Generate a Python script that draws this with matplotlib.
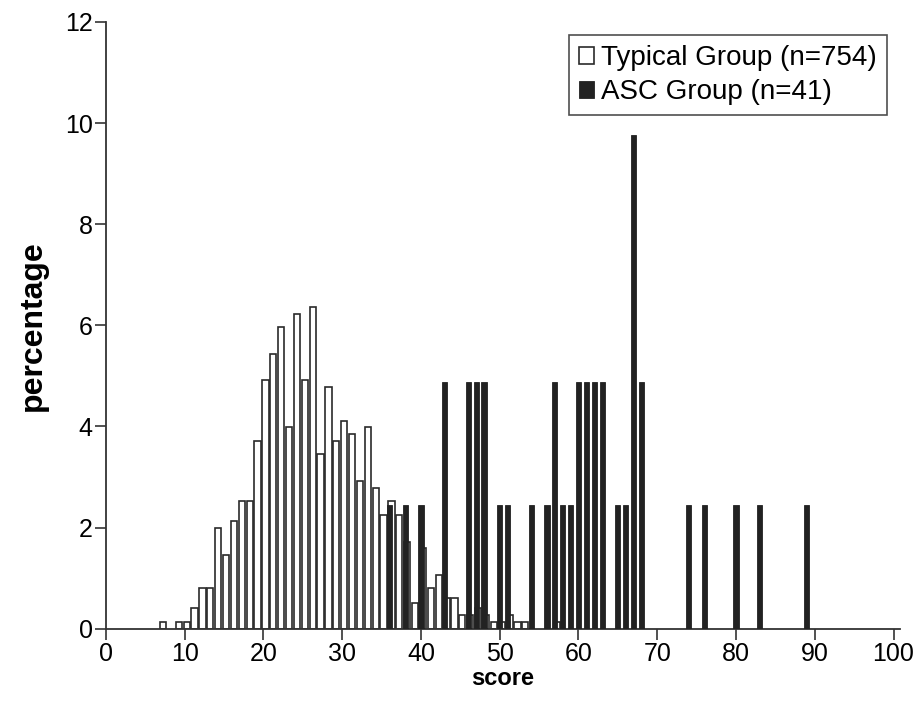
import matplotlib.pyplot as plt
import numpy as np

# typical group: percentage of 754 children at each score
typ_scores = [7, 9, 10, 11, 12, 13, 14, 15, 16, 17, 18, 19, 20, 21, 22, 23, 24, 25,
              26, 27, 28, 29, 30, 31, 32, 33, 34, 35, 36, 37, 38, 39, 40, 41, 42,
              43, 44, 45, 46, 47, 48, 49, 50, 51, 52, 53, 57]
typ_pct = [0.13, 0.13, 0.13, 0.40, 0.80, 0.80, 1.99, 1.46, 2.12, 2.52, 2.52, 3.71,
           4.91, 5.44, 5.97, 3.98, 6.23, 4.91, 6.37, 3.45, 4.77, 3.71, 4.11, 3.85,
           2.92, 3.98, 2.79, 2.25, 2.52, 2.25, 1.72, 0.50, 1.59, 0.80, 1.06, 0.61,
           0.61, 0.27, 0.27, 0.40, 0.27, 0.13, 0.13, 0.27, 0.13, 0.13, 0.13]

# ASC group: percentage of 41 children at each score
asc_scores = [36, 38, 40, 43, 46, 47, 48, 50, 51, 54, 56, 57, 58, 59, 60, 61, 62,
              63, 65, 66, 67, 68, 74, 76, 80, 83, 89]
asc_pct = [2.44, 2.44, 2.44, 4.88, 4.88, 4.88, 4.88, 2.44, 2.44, 2.44, 2.44, 4.88,
           2.44, 2.44, 4.88, 4.88, 4.88, 4.88, 2.44, 2.44, 9.76, 4.88, 2.44, 2.44,
           2.44, 2.44, 2.44]

xticks = np.arange(0, 101, 10)
yticks = np.arange(0, 13, 2)

plt.rcParams['font.family'] = 'Liberation Sans'

fig = plt.figure(figsize=(9.23, 7.10), dpi=100)
ax = fig.add_axes([0.1148, 0.1146, 0.8605, 0.8545])

ax.bar(np.array(typ_scores) + 0.25, typ_pct, 0.78, color='white', edgecolor='#2a2a2a',
       linewidth=1.2, label='Typical Group (n=754)', zorder=2)
ax.bar(asc_scores, asc_pct, 0.66, color='#222222', edgecolor='#222222',
       linewidth=0.6, label='ASC Group (n=41)', zorder=3)

ax.set_xlim(0, 100.85)
ax.set_ylim(0, 12)
ax.set_xticks(xticks)
ax.set_yticks(yticks)
ax.tick_params(labelsize=18, length=8, width=1.2, color='#333333', pad=1.5)
for s in ['top', 'right']:
    ax.spines[s].set_visible(False)
for s in ['left', 'bottom']:
    ax.spines[s].set_linewidth(1.3)
    ax.spines[s].set_color('#333333')

ax.set_xlabel('score', fontsize=17, fontweight='bold', labelpad=1)
ax.set_ylabel('percentage', fontsize=23, fontweight='bold', labelpad=12)

leg = ax.legend(loc='upper right', bbox_to_anchor=(0.983, 0.978), fontsize=20,
                frameon=True, fancybox=False, edgecolor='#222222',
                handlelength=0.55, handleheight=0.55, handletextpad=0.25,
                borderpad=0.35, labelspacing=0.3, borderaxespad=0)
leg.get_frame().set_linewidth(1.2)

fig.savefig('out.png', dpi=100)
